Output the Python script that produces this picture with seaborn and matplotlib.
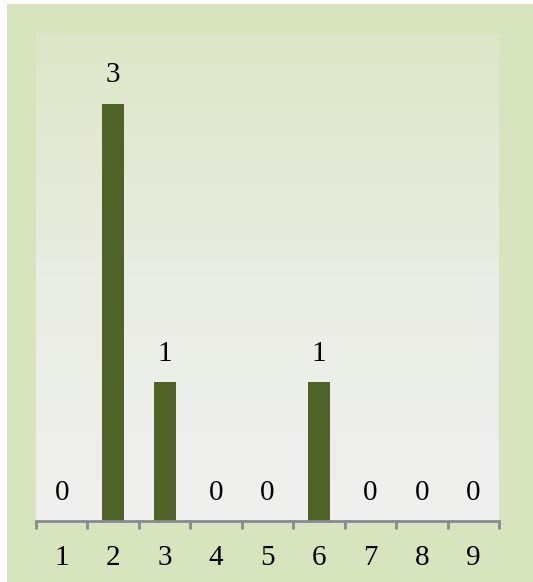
import numpy as np
import pandas as pd
import matplotlib
matplotlib.use("Agg")
import matplotlib.pyplot as plt
from matplotlib.patches import Rectangle
from matplotlib.colors import LinearSegmentedColormap
import seaborn as sns

categories = ["1", "2", "3", "4", "5", "6", "7", "8", "9"]
counts = [0, 3, 1, 0, 0, 1, 0, 0, 0]

sns.set_style("white")
plt.rcParams["font.family"] = ["Liberation Serif", "DejaVu Serif"]

W, H = 533, 582
FS = 21
fig = plt.figure(figsize=(W / 100, H / 100), dpi=100, facecolor="white")

# outer green frame, drawn behind the axes
frame = Rectangle((7 / W, 0), 1 - 7 / W, (H - 4) / H,
                  transform=fig.transFigure, facecolor="#d7e4bd",
                  edgecolor="none", zorder=-10)
fig.add_artist(frame)

ax = fig.add_axes([36 / W, (H - 521) / H, 463 / W, 487 / H])
ax.set_facecolor("none")

df = pd.DataFrame({"cat": categories, "n": counts})
sns.barplot(data=df, x="cat", y="n", color="#4f6228", width=0.43,
            saturation=1, linewidth=0, ax=ax, zorder=3)

# plot area gradient
cmap = LinearSegmentedColormap.from_list("bg", ["#f0f0f0", "#eaede3", "#dde6c8"])
grad = np.linspace(0, 1, 256).reshape(-1, 1)
ax.imshow(grad, extent=[0, 1, 0, 1], transform=ax.transAxes, origin="lower",
          aspect="auto", cmap=cmap, zorder=0)

ax.set_xlim(-0.5, len(categories) - 0.5)
ax.set_ylim(0, 3.5)

for c in ax.containers:
    ax.bar_label(c, labels=[str(v) for v in counts], padding=11,
                 fontsize=FS, color="black")

for s in ["top", "left", "right"]:
    ax.spines[s].set_visible(False)
ax.spines["bottom"].set_color("#8a8a8a")
ax.spines["bottom"].set_linewidth(2)
ax.spines["bottom"].set_zorder(4)

ax.set_yticks([])
ax.set_xticks(range(len(categories)))
ax.set_xticklabels(categories, fontsize=FS)
ax.tick_params(axis="x", which="major", length=0, pad=17, colors="black")
ax.set_xticks(np.arange(-0.5, len(categories), 1.0), minor=True)
ax.tick_params(axis="x", which="minor", length=6, width=2, color="#8a8a8a",
               direction="out", bottom=True)
ax.set_xlabel("")
ax.set_ylabel("")

fig.savefig("out.png", dpi=100, facecolor="white")
